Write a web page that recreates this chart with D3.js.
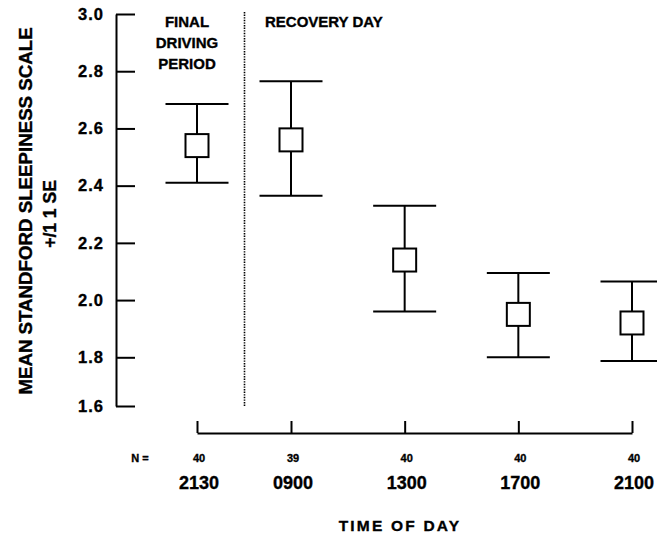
<!DOCTYPE html>
<html>
<head>
<meta charset="utf-8">
<script src="https://cdn.jsdelivr.net/npm/d3@7"></script>
<style>
  html, body { margin: 0; padding: 0; background: #fff; }
  svg text { font-family: "Liberation Sans", Arial, Helvetica, sans-serif; font-weight: 700; fill: #000; stroke: #000; stroke-width: 0.35px; }
</style>
</head>
<body>
<svg id="chart" width="657" height="537"></svg>
<script>
// Time points and sample sizes
const times = ["2130", "0900", "1300", "1700", "2100"];
const counts = [40, 39, 40, 40, 40];
// Mean Stanford Sleepiness Scale and the ±1 SE bounds
const means = [2.54, 2.56, 2.14, 1.95, 1.92];
const upper = [2.685, 2.765, 2.33, 2.095, 2.065];
const lower = [2.41, 2.365, 1.96, 1.80, 1.785];
const yTicks = [1.6, 1.8, 2.0, 2.2, 2.4, 2.6, 2.8, 3.0];

const svg = d3.select("#chart");

// Value axis (the lowest interval is drawn shorter in this figure)
const y = d3.scaleLinear().domain([1.6, 1.8, 3.0]).range([406, 357.3, 14]);
// Time points: the driving session sits closer to the first recovery point
const x = d3.scaleLinear().domain([0, 1, 4]).range([197, 291, 632]);

const axisX = 116;

// Y axis with inward ticks
const yAxis = svg.append("g")
  .attr("transform", `translate(${axisX},0)`)
  .call(d3.axisLeft(y).tickValues(yTicks).tickFormat(d3.format(".1f"))
    .tickSizeInner(-19).tickSizeOuter(0).tickPadding(12));
yAxis.attr("font-family", null).attr("font-size", null);
yAxis.selectAll("path, line").attr("stroke", "#000").attr("stroke-width", 2);
yAxis.selectAll("text")
  .style("font-size", "16.5px")
  .style("letter-spacing", "1px");

// Dotted divider between driving period and recovery day
svg.append("line")
  .attr("x1", 244.5).attr("x2", 244.5)
  .attr("y1", y(3.0) - 2).attr("y2", y(1.6))
  .attr("stroke", "#000").attr("stroke-width", 1.6)
  .attr("stroke-dasharray", "1.4,1.2");

// Section headings
const head = svg.append("g").style("font-size", "15px");
head.append("text").attr("x", 187).attr("y", 27).attr("text-anchor", "middle").text("FINAL");
head.append("text").attr("x", 187).attr("y", 48).attr("text-anchor", "middle").text("DRIVING");
head.append("text").attr("x", 187).attr("y", 69).attr("text-anchor", "middle").text("PERIOD");
head.append("text").attr("x", 265).attr("y", 27).text("RECOVERY DAY");

// Error bars with square mean markers
const capHalf = 31.5, box = 23;
const bars = svg.append("g").selectAll("g").data(times).join("g");
bars.append("line")
  .attr("x1", (d, i) => x(i)).attr("x2", (d, i) => x(i))
  .attr("y1", (d, i) => y(upper[i])).attr("y2", (d, i) => y(lower[i]))
  .attr("stroke", "#000").attr("stroke-width", 2);
bars.append("line")
  .attr("x1", (d, i) => x(i) - capHalf).attr("x2", (d, i) => x(i) + capHalf)
  .attr("y1", (d, i) => y(upper[i])).attr("y2", (d, i) => y(upper[i]))
  .attr("stroke", "#000").attr("stroke-width", 2);
bars.append("line")
  .attr("x1", (d, i) => x(i) - capHalf).attr("x2", (d, i) => x(i) + capHalf)
  .attr("y1", (d, i) => y(lower[i])).attr("y2", (d, i) => y(lower[i]))
  .attr("stroke", "#000").attr("stroke-width", 2);
bars.append("rect")
  .attr("x", (d, i) => x(i) - box / 2).attr("y", (d, i) => y(means[i]) - box / 2)
  .attr("width", box).attr("height", box)
  .attr("fill", "#fff").attr("stroke", "#000").attr("stroke-width", 2);

// Time axis with upward ticks
const xAxis = svg.append("g")
  .attr("transform", "translate(0,433)")
  .call(d3.axisBottom(x).tickValues(d3.range(times.length)).tickFormat("")
    .tickSizeInner(-12).tickSizeOuter(0));
xAxis.selectAll("path, line").attr("stroke", "#000").attr("stroke-width", 2);

// Sample sizes
svg.append("text").attr("x", 140).attr("y", 462).attr("text-anchor", "middle")
  .style("font-size", "11px").text("N =");
svg.append("g").selectAll("text").data(counts).join("text")
  .attr("x", (d, i) => x(i) + 2).attr("y", 462).attr("text-anchor", "middle")
  .style("font-size", "11px").text(d => d);

// Time-of-day labels
svg.append("g").selectAll("text").data(times).join("text")
  .attr("x", (d, i) => x(i) + 2).attr("y", 489).attr("text-anchor", "middle")
  .style("font-size", "18px").text(d => d);

// Axis titles
svg.append("text").attr("x", 400).attr("y", 531).attr("text-anchor", "middle")
  .style("font-size", "15.5px").style("letter-spacing", "2.2px").text("TIME OF DAY");

const yTitle = svg.append("g").attr("transform", "translate(32,211) rotate(-90)")
  .style("font-size", "18.7px").attr("text-anchor", "middle");
yTitle.append("text").attr("x", 0).attr("y", 0).text("MEAN STANDFORD SLEEPINESS SCALE");
yTitle.append("text").attr("x", -3).attr("y", 24).style("font-size", "17.5px").text("+/1 1 SE");
</script>
</body>
</html>
